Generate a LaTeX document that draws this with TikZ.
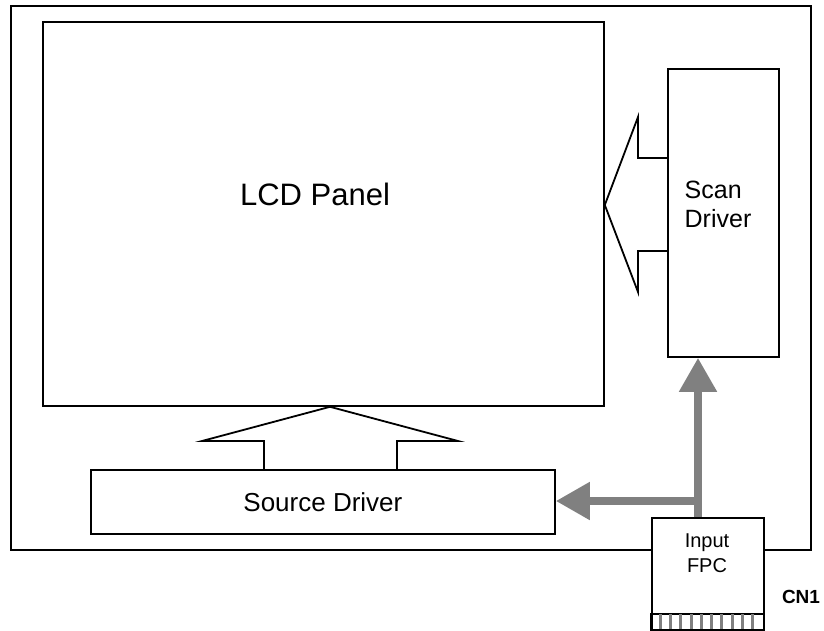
\documentclass[tikz,border=0pt]{standalone}
\usepackage{fontspec}
\setmainfont{Liberation Sans}
\usetikzlibrary{positioning}
\usetikzlibrary{arrows.meta}

\begin{document}
\begin{tikzpicture}[x=1pt, y=-1pt,
  box/.style = {draw, line width=1.8pt, inner sep=0pt, anchor=north west},
  feed/.style = {draw=gray, line width=8pt, -{Triangle[length=34pt, width=36pt]}},
  hollow/.style = {draw, line width=1.8pt, line join=miter}]
\useasboundingbox (0,0) rectangle (824,630);
% blocks
\node[box, minimum width=800pt, minimum height=544pt] (frame) at (10,5) {};
\node[box, minimum width=561pt, minimum height=384pt] (lcd) at (42,21) {};
\node[box, minimum width=111pt, minimum height=288pt] (scan) at (667,68) {};
\node[box, minimum width=464pt, minimum height=64pt, fill=white,
  font=\fontsize{26}{31}\selectfont] (source) at (90,469) {Source Driver};
\node[box, minimum width=112pt, minimum height=112pt, fill=white] (fpc) at (651,517) {};
\node[box, minimum width=113pt, minimum height=17pt] (pins) at (650,613) {};
\foreach \i in {1,...,10}
  \draw[gray, line width=3pt] ({650+\i*113/11},614) -- ++(0,15);
% texts
\node[font=\fontsize{31}{37}\selectfont] (lcdtext) at (315,194) {LCD Panel};
\node[font=\fontsize{25}{29}\selectfont, align=left] (scantext) at (718,204) {Scan\\Driver};
\node[font=\fontsize{20}{25}\selectfont, align=center] (fpctext) at (707,553) {Input\\FPC};
\node[font=\bfseries\fontsize{19}{23}\selectfont] (cn) at (801,597) {CN1};
% hollow arrows
\draw[hollow] (264,469) -- (264,441) -- (202,441) -- (lcd.south -| 330,0) -- (458,441) -- (397,441) -- (397,469);
\draw[hollow] (667,158) -- (638,158) -- (638,117) -- (lcd.east |- 0,205) -- (638,292) -- (638,251) -- (667,251);
% signal lines
\coordinate (split) at (698,501);
\draw[feed] (fpc.north -| split) -- (scan.south -| split);
\draw[feed] (split) -- (source.east |- split);
\end{tikzpicture}
\end{document}
